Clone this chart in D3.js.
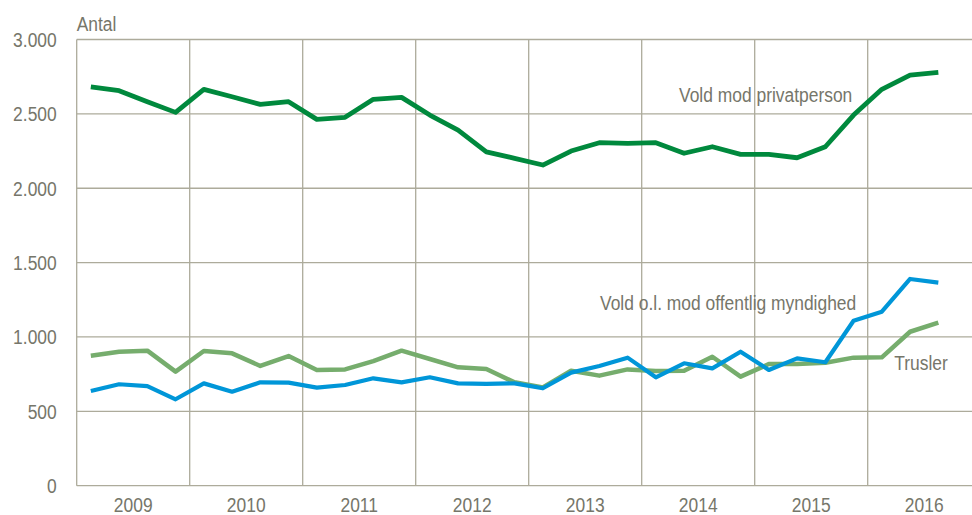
<!DOCTYPE html>
<html>
<head>
<meta charset="utf-8">
<script src="https://cdn.jsdelivr.net/npm/d3@7"></script>
<style>
  body { margin: 0; background: #fff; }
  svg text { font-family: "Liberation Sans", Arial, sans-serif; font-size: 21px; fill: #76766a; }
</style>
</head>
<body>
<svg id="chart" width="972" height="515"></svg>
<script>
// years on the x axis, data is quarterly (2009 Q1 - 2016 Q3)
var years = ["2009", "2010", "2011", "2012", "2013", "2014", "2015", "2016"];
var yTicks = [0, 500, 1000, 1500, 2000, 2500, 3000];

// Vold mod privatperson
var privat = [2682, 2656, 2582, 2510, 2665, 2615, 2564, 2582,
              2463, 2477, 2598, 2611, 2492, 2391, 2245, 2201,
              2156, 2250, 2306, 2302, 2306, 2235, 2279, 2228,
              2228, 2205, 2279, 2492, 2665, 2761, 2779];
// Vold o.l. mod offentlig myndighed
var myndighed = [637, 682, 670, 581, 688, 632, 695, 693,
                 659, 677, 722, 695, 729, 688, 684, 688,
                 655, 760, 805, 861, 729, 823, 789, 901,
                 778, 856, 830, 1109, 1170, 1390, 1365];
// Trusler
var trusler = [874, 901, 908, 767, 906, 890, 805, 872,
               778, 782, 838, 908, 852, 796, 785, 695,
               661, 773, 740, 782, 771, 773, 867, 733,
               818, 818, 827, 861, 863, 1035, 1096];

var dark_green = "#00893d";
var blue = "#0096d8";
var light_green = "#76ad6d";
var grid_color = "#adab9b";

var svg = d3.select("#chart");

// plot box (right edge runs past the picture, like the original)
var pLeft = 76.7, pRight = 980.7, pTop = 39.5, pBottom = 485.7;
// the original font is a narrow one, squeeze the text a bit
var squeeze = 0.83;

var x = d3.scaleLinear().domain([0, years.length * 4]).range([pLeft, pRight]);
var y = d3.scaleLinear().domain([0, 3000]).range([pBottom, pTop]);

var fmt = d3.formatLocale({decimal: ",", thousands: ".", grouping: [3], currency: ["", ""]}).format(",");

function place(px, py) {
  return "translate(" + px + "," + py + ") scale(" + squeeze + ",1)";
}

// horizontal gridlines
svg.append("g").selectAll("line")
  .data(yTicks)
  .enter().append("line")
  .attr("x1", pLeft).attr("x2", pRight)
  .attr("y1", function(d) { return y(d); })
  .attr("y2", function(d) { return y(d); })
  .attr("stroke", grid_color)
  .attr("stroke-width", 1.3);

// vertical lines between years
svg.append("g").selectAll("line")
  .data(d3.range(years.length + 1))
  .enter().append("line")
  .attr("x1", function(d) { return x(d * 4); })
  .attr("x2", function(d) { return x(d * 4); })
  .attr("y1", pTop).attr("y2", pBottom)
  .attr("stroke", grid_color)
  .attr("stroke-width", 1.3);

// y tick labels
svg.append("g").selectAll("text")
  .data(yTicks)
  .enter().append("text")
  .attr("transform", function(d) { return place(56.7, y(d) + 7.5); })
  .attr("text-anchor", "end")
  .text(function(d) { return fmt(d); });

// year labels
svg.append("g").selectAll("text")
  .data(years)
  .enter().append("text")
  .attr("transform", function(d, i) { return place(x(i * 4 + 2), 512); })
  .attr("text-anchor", "middle")
  .text(function(d) { return d; });

svg.append("text")
  .attr("transform", place(76.7, 30.5))
  .text("Antal");

var line = d3.line()
  .x(function(d, i) { return x(i + 0.5); })
  .y(function(d) { return y(d); });

var series = [
  {values: trusler, color: light_green, width: 4.5},
  {values: myndighed, color: blue, width: 4.2},
  {values: privat, color: dark_green, width: 4.8}
];

series.forEach(function(s) {
  svg.append("path")
    .attr("d", line(s.values))
    .attr("fill", "none")
    .attr("stroke", s.color)
    .attr("stroke-width", s.width)
    .attr("stroke-linejoin", "round");
});

// series labels
var labels = [
  {text: "Vold mod privatperson", x: 679, y: 102},
  {text: "Vold o.l. mod offentlig myndighed", x: 600, y: 310},
  {text: "Trusler", x: 894.3, y: 370}
];
svg.append("g").selectAll("text")
  .data(labels)
  .enter().append("text")
  .attr("transform", function(d) { return place(d.x, d.y); })
  .text(function(d) { return d.text; });
</script>
</body>
</html>
